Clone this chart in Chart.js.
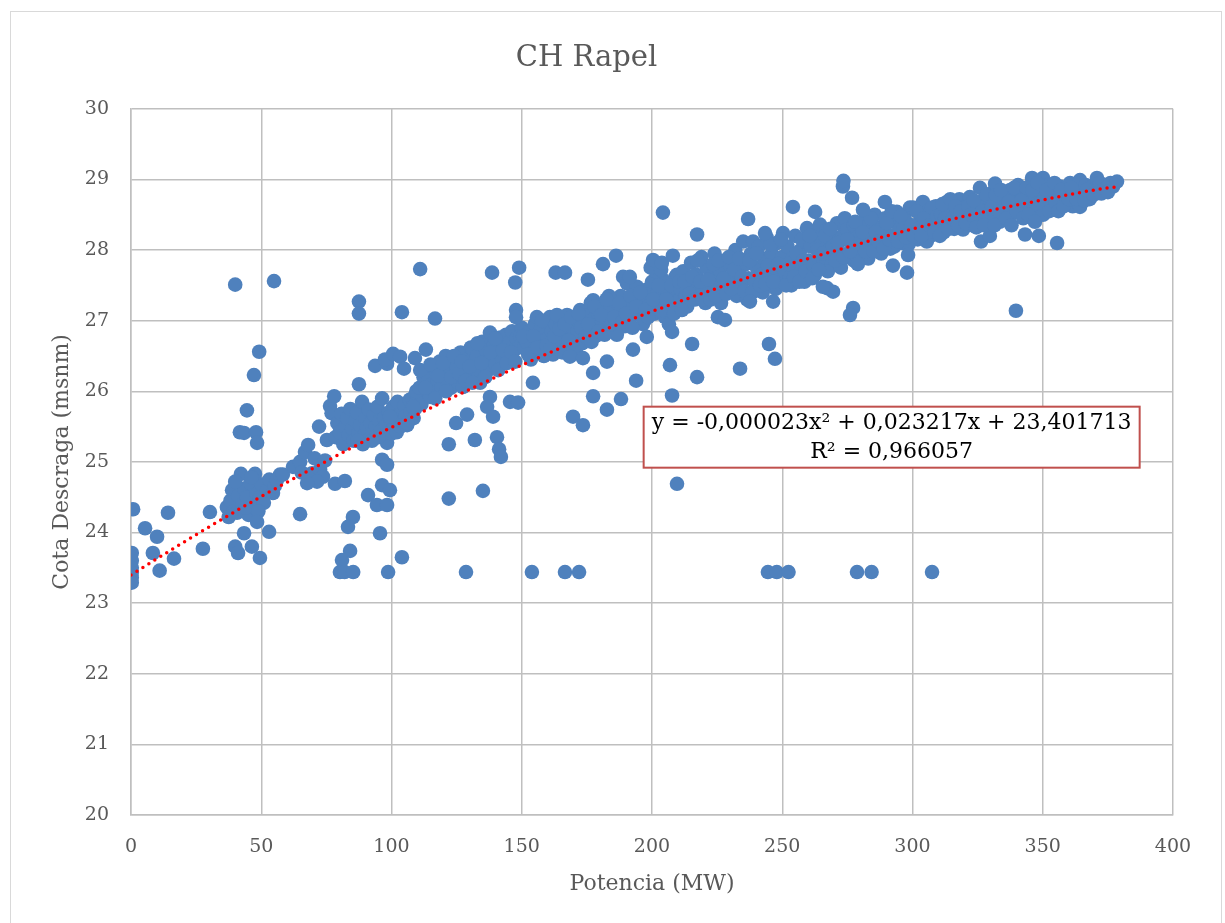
<!DOCTYPE html>
<html>
<head>
<meta charset="utf-8">
<script src="https://cdn.jsdelivr.net/npm/chart.js@4.4.1/dist/chart.umd.min.js"></script>
<style>
  html, body { margin: 0; padding: 0; background: #fff; }
  #frame { position: absolute; left: 10px; top: 11px; width: 1212px; height: 930px; border: 1px solid #d9d9d9; box-sizing: border-box; }
  #wrap { position: absolute; left: 0; top: 0; width: 1225px; height: 923px; }
</style>
</head>
<body>
<div id="frame"></div>
<div id="wrap"><canvas id="chart" width="1225" height="923"></canvas></div>
<script>
// points: [Potencia MW, Cota msnm]
const nearZero = [
    [0.8, 24.33], [0.3, 23.71], [0.3, 23.6], [0.3, 23.5], [0.3, 23.43], [0.3, 23.36], [0.3, 23.29],
    [5.4, 24.06], [8.4, 23.71], [10, 23.94], [11, 23.46], [14.2, 24.28], [16.5, 23.63],
    [27.6, 23.77], [30.3, 24.29]
];

const band35to60 = [
    [36.8, 24.36], [38.2, 24.45], [38.8, 24.6], [39.5, 24.3], [40.7, 24.28], [41.2, 24.52], [42.2, 24.83],
    [42.8, 24.4], [43.5, 24.62], [44.5, 24.5], [45.1, 24.25], [45.8, 24.7], [46.8, 24.36], [47.6, 24.83],
    [48.3, 24.55], [49.5, 24.5], [50.2, 24.68], [51, 24.42], [52.2, 24.6], [53.1, 24.75], [54.5, 24.56],
    [55.2, 24.66], [56, 24.74], [57.2, 24.82], [58.3, 24.82], [46.2, 24.78], [40, 24.72], [44, 24.35],
    [48.9, 24.3], [37.5, 24.22],
    [41.8, 25.42], [43.4, 25.41], [48, 25.42], [48.4, 25.27], [44.5, 25.73], [47.2, 26.23], [49.2, 26.56],
    [43.4, 23.99], [40, 23.8], [41.1, 23.71], [49.5, 23.64], [48.4, 24.15], [53, 24.01], [46.4, 23.8]
];

const band60to110 = [
    [62.2, 24.93], [64.9, 25.0], [66.8, 25.14], [68, 25.24], [69.5, 24.84], [72.6, 24.89], [73.7, 24.79],
    [71.4, 24.72], [67.6, 24.7], [65.5, 24.85], [70.5, 25.05], [74.5, 25.02], [76.4, 25.79], [77, 25.69],
    [72.2, 25.5], [75.2, 25.31], [78, 25.93], [64.9, 24.26],
    [78.5, 25.35], [79.2, 25.55], [80.1, 25.42], [80.8, 25.68], [81.5, 25.25], [82.3, 25.5], [83, 25.62],
    [83.6, 25.38], [84.2, 25.75], [84.9, 25.47], [85.5, 25.3], [86.1, 25.58], [86.8, 25.7], [87.4, 25.42],
    [88, 25.52], [88.7, 25.85], [89.3, 25.36], [90, 25.62], [90.6, 25.48], [91.3, 25.74], [92, 25.55],
    [92.6, 25.4], [93.3, 25.66], [94, 25.5], [94.6, 25.78], [95.3, 25.58], [96, 25.44], [96.4, 25.9],
    [97.2, 25.62], [98, 25.52], [98.3, 25.27], [99, 25.7], [99.8, 25.58], [100.6, 25.78], [101.5, 25.65],
    [102.3, 25.85], [103, 25.6], [104, 25.72], [105, 25.8], [106, 25.52], [107, 25.88], [108, 25.9],
    [109, 25.75], [110, 25.95],
    [100, 25.4], [101, 25.52], [102, 25.42], [103.5, 25.5], [104.5, 25.58], [105.5, 25.65], [107.5, 25.7],
    [108.5, 25.62], [109.5, 26.0], [95, 25.35], [92.5, 25.3], [89, 25.25], [87, 25.3],
    [96.4, 25.03], [98.3, 24.96], [96.4, 24.67], [99.4, 24.6], [91, 24.53], [94.4, 24.39], [98.3, 24.39],
    [95.6, 23.99], [85.2, 24.22], [83.3, 24.08], [84.1, 23.74], [81, 23.61], [78.3, 24.69], [82.1, 24.73],
    [104, 23.65],
    [87.5, 26.1], [93.7, 26.36], [98.3, 26.39], [97.5, 26.45], [100.6, 26.53], [103.3, 26.49], [104.8, 26.32],
    [109, 26.47], [87.5, 27.27], [87.5, 27.1], [104, 27.12], [111, 27.73], [40, 27.51], [54.9, 27.56]
];

const band110to150 = [
    [110.8, 26.05], [111.5, 25.82], [112.3, 26.2], [113.2, 26.59], [114, 26.23], [114.8, 25.92], [115.5, 26.1],
    [116.3, 26.0], [117, 26.3], [117.8, 26.15], [118.5, 26.42], [119.3, 26.05], [120, 26.25], [120.8, 26.5],
    [121.3, 26.16], [122, 26.35], [122.8, 26.05], [123.5, 26.4], [124.3, 26.22], [125, 26.35], [125.8, 26.12],
    [126.5, 26.55], [127.4, 26.06], [128.2, 26.3], [129, 26.45], [129.8, 26.2], [130.5, 26.62], [131.3, 26.59],
    [132, 26.35], [132.8, 26.5], [133.5, 26.25], [134, 26.12], [134.8, 26.7], [135.5, 26.42], [136.3, 26.58],
    [137, 26.3], [137.8, 26.83], [138.5, 26.48], [139.3, 26.65], [140, 26.38], [140.8, 26.55], [141.7, 26.76],
    [142.5, 26.45], [143.2, 26.62], [144, 26.8], [144.8, 26.5], [145.5, 26.7], [146.3, 26.85], [147, 26.58],
    [148, 26.75], [149, 26.62], [150, 26.9],
    [111, 26.3], [113, 26.05], [115, 26.38], [116.8, 25.9], [118, 26.22], [119.8, 26.4], [121, 26.0],
    [123, 26.2], [124, 26.5], [126, 26.25], [127, 26.42], [128.5, 26.15], [130, 26.35], [131, 26.12],
    [133, 26.68], [134.5, 26.4], [136, 26.2], [138, 26.55], [139.8, 26.75], [141, 26.3], [142.8, 26.58],
    [144.3, 26.4], [146, 26.55], [147.5, 26.42], [149.5, 26.78],
    [108.3, 25.78], [106, 25.55], [99.4, 25.64], [122, 25.25], [124.8, 25.55], [129, 25.67], [137.8, 25.92],
    [136.7, 25.78], [139, 25.64], [132, 25.31], [140.5, 25.35], [141.3, 25.18], [142, 25.07], [145.5, 25.85],
    [148.6, 25.84], [122, 24.48], [135.1, 24.59],
    [116.7, 27.03], [138.6, 27.68], [149, 27.75], [147.5, 27.54], [147.8, 27.15], [147.8, 27.05]
];

const band150to210 = [
    [151, 26.62], [152, 26.69], [153, 26.85], [154, 26.55], [155, 26.95], [155.8, 27.05], [156.5, 26.72],
    [157.3, 26.88], [158, 26.6], [159, 26.98], [160, 26.75], [160.8, 27.05], [161.5, 26.85], [162, 26.52],
    [163, 26.95], [164, 26.7], [165, 27.0], [166, 26.82], [167, 26.6], [167.4, 27.08], [168.5, 26.9],
    [169.5, 26.75], [170.5, 27.02], [171.5, 26.85], [172.4, 27.15], [173.2, 26.68], [174, 26.95], [175, 27.1],
    [176, 26.82], [177, 27.0], [177.4, 27.29], [178.3, 26.78], [179, 27.12], [180, 26.92], [181, 27.22],
    [182, 27.05], [183, 26.85], [184, 27.18], [185, 27.29], [186, 26.98], [187, 27.1], [188, 27.35],
    [188.9, 27.62], [189.5, 26.92], [190.4, 27.53], [191, 27.2], [192, 27.05], [193, 27.38], [194.2, 27.48],
    [195, 27.15], [196, 27.3], [197, 27.0], [198, 27.44], [199, 27.22], [200, 27.55], [201, 27.1],
    [202, 27.38], [203, 27.25], [204.2, 27.58], [205, 27.05], [206, 27.4], [207, 27.2], [208, 27.34],
    [209, 27.62], [209.6, 27.65], [210, 27.28],
    [153.5, 26.45], [158.5, 26.5], [163.5, 27.08], [171, 26.62], [176.5, 27.25], [183.5, 27.35], [186.5, 26.8],
    [191.5, 27.62], [196.5, 26.95], [201.5, 27.7], [206.5, 26.95], [199.5, 27.75], [203.5, 27.72],
    [150.5, 26.78], [152.5, 26.52], [154.5, 26.78], [156, 26.62], [157.8, 27.0], [159.5, 26.65], [161, 26.6],
    [162.5, 26.78], [164.5, 26.88], [165.5, 26.55], [166.5, 26.95], [168, 26.72], [169, 27.05], [170, 26.6],
    [171.8, 27.1], [172.8, 26.9], [174.5, 26.78], [175.5, 26.95], [176.8, 26.7], [178, 27.2], [179.5, 26.85],
    [180.5, 27.08], [181.8, 26.8], [182.5, 27.3], [184.5, 26.95], [185.5, 27.05], [187.5, 27.25],
    [188.5, 26.98], [190, 27.1], [191.8, 27.35], [192.5, 26.9], [194, 27.2], [195.5, 27.4], [197.5, 27.15],
    [198.5, 27.05], [200.5, 27.3], [202.5, 27.5], [204, 27.15], [205.5, 27.3], [207.5, 27.5], [208.5, 27.1],
    [168.5, 26.49], [173.5, 26.47], [182.7, 26.42], [177.4, 26.26], [193.9, 26.15], [192.7, 26.59],
    [198, 26.77], [206.9, 26.37], [207.7, 26.84], [177.4, 25.93], [188.1, 25.89], [182.7, 25.74],
    [169.7, 25.64], [173.5, 25.52], [154.3, 26.12], [209.6, 24.69], [207.7, 25.94],
    [163, 27.68], [166.6, 27.68], [175.4, 27.58], [181.2, 27.8], [186.2, 27.92], [200.4, 27.86],
    [203.8, 27.82], [208, 27.92], [204.2, 28.53]
];

const band210to260 = [
    [211, 27.45], [212, 27.7], [213, 27.35], [214, 27.58], [215, 27.82], [216, 27.48], [217, 27.65],
    [218, 27.4], [219, 27.9], [220, 27.55], [221, 27.75], [222, 27.45], [223, 27.62], [224, 27.95],
    [225, 27.5], [226, 27.72], [227, 27.42], [228, 27.85], [229, 27.6], [230, 27.78], [231, 27.52],
    [232, 28.0], [233, 27.68], [234, 27.45], [235, 28.12], [236, 27.8], [237, 27.6], [238, 27.95],
    [238.8, 28.12], [239.5, 27.55], [240.3, 27.75], [241, 28.05], [242, 27.65], [243, 27.88], [244, 28.18],
    [245, 27.6], [246, 27.95], [247, 27.75], [248, 28.1], [249, 27.58], [250, 27.9], [250.3, 28.24],
    [251, 27.7], [252, 28.05], [253, 27.62], [254, 27.88], [255, 28.2], [256, 27.75], [257, 28.0],
    [258, 27.65], [259, 28.12], [259.5, 28.31], [260, 27.85],
    [213.5, 27.2], [220.5, 27.25], [226.5, 27.25], [232.5, 27.35], [236.5, 27.3], [242.5, 27.4],
    [247.5, 27.45], [253.5, 27.5], [258.5, 27.55],
    [210.5, 27.55], [211.5, 27.15], [212.5, 27.55], [214.5, 27.38], [215.5, 27.62], [216.5, 27.3],
    [217.5, 27.85], [218.5, 27.55], [219.5, 27.3], [221.5, 27.58], [222.5, 27.3], [223.5, 27.8],
    [224.5, 27.35], [225.5, 27.85], [227.5, 27.6], [228.5, 27.38], [229.5, 27.9], [230.5, 27.45],
    [231.5, 27.72], [233.5, 27.88], [234.5, 27.62], [235.5, 27.42], [237.5, 27.85], [238.5, 27.4],
    [240, 27.95], [241.5, 27.5], [243.5, 27.52], [244.5, 27.78], [245.5, 28.08], [246.5, 27.55],
    [248.5, 27.8], [249.5, 28.15], [251.5, 27.5], [252.5, 27.8], [254.5, 27.62], [255.5, 27.95],
    [256.5, 27.55], [257.5, 28.15], [258, 27.85], [259, 27.7],
    [215.4, 26.67], [217.3, 26.2], [217.3, 28.22], [236.9, 28.44], [243.4, 28.24], [254.1, 28.61],
    [225.3, 27.05], [228, 27.01], [237.6, 27.27], [246.5, 27.27], [244.9, 26.67], [247.2, 26.46],
    [233.8, 26.32]
];

const band260to310 = [
    [261, 28.05], [262, 27.78], [263, 28.22], [264, 27.9], [264.5, 28.36], [265, 28.1], [266, 27.85],
    [267, 28.28], [268, 28.0], [269, 27.8], [270, 28.15], [271, 28.38], [272, 27.95], [273, 28.2],
    [274, 28.45], [274.9, 28.29], [275.5, 27.9], [276.5, 28.12], [277.5, 28.35], [278.5, 28.02],
    [279.5, 28.2], [280.5, 27.92], [281.5, 28.42], [282.5, 28.38], [283.5, 28.1], [284.5, 28.28],
    [285.5, 28.5], [286.5, 28.05], [287.5, 28.32], [288.5, 28.15], [289.5, 28.45], [290.5, 28.22],
    [291.5, 28.02], [292.5, 28.4], [293.5, 28.2], [294, 28.54], [295, 28.3], [296, 28.1], [297, 28.45],
    [298, 28.25], [299, 28.6], [300.2, 28.6], [301, 28.35], [302, 28.15], [303, 28.5], [304, 28.68],
    [305, 28.3], [306, 28.55], [307, 28.2], [308, 28.42], [309, 28.62], [310, 28.35],
    [262.5, 27.65], [267.5, 27.7], [272.5, 27.75], [277.5, 27.85], [283, 27.88], [288, 27.95],
    [293, 28.05], [298.5, 28.08], [305.5, 28.12],
    [260.5, 28.2], [261.5, 27.6], [263.5, 28.0], [264, 27.72], [265.5, 27.95], [266.5, 28.2], [268.5, 28.3],
    [269.5, 28.05], [270.5, 27.85], [271.5, 28.1], [273.5, 27.9], [275, 28.15], [276, 27.98], [278, 28.4],
    [279, 27.8], [280, 28.1], [281, 28.25], [282, 27.98], [284, 28.45], [285, 27.98], [286, 28.25],
    [287, 28.12], [289, 28.02], [290, 28.38], [291, 28.15], [292, 28.55], [294.5, 28.12], [295.5, 28.48],
    [296.5, 28.3], [297.5, 28.18], [299.5, 28.35], [300.5, 28.2], [301.5, 28.55], [302.5, 28.3],
    [303.5, 28.2], [304.5, 28.45], [306.5, 28.35], [307.5, 28.6], [308.5, 28.25], [309.5, 28.48],
    [262.6, 28.54], [273.3, 28.9], [273.5, 28.98], [276.8, 28.74], [281, 28.57], [289.4, 28.68],
    [297.9, 27.68], [298.3, 27.93], [292.5, 27.78], [277.2, 27.18], [276, 27.08], [267.2, 27.46],
    [269.5, 27.41], [265.6, 27.48]
];

const band310to380 = [
    [311, 28.5], [312, 28.25], [313.2, 28.68], [314, 28.4], [315, 28.58], [316, 28.3], [317, 28.52],
    [318, 28.72], [319, 28.42], [319.4, 28.29], [320, 28.6], [321, 28.45], [322, 28.75], [323, 28.35],
    [324, 28.62], [325, 28.48], [325.9, 28.88], [326.3, 28.12], [327, 28.7], [328, 28.4], [329, 28.58],
    [329.7, 28.2], [330, 28.8], [331, 28.5], [331.7, 28.94], [332.5, 28.65], [333.5, 28.4], [334.7, 28.47],
    [335.5, 28.78], [336.5, 28.6], [337.5, 28.85], [338.5, 28.52], [339.5, 28.7], [340.5, 28.92],
    [341.2, 28.57], [342, 28.8], [343.2, 28.22], [344, 28.65], [345, 28.9], [345.9, 29.02], [346.5, 28.72],
    [347.5, 28.55], [348.5, 28.2], [349, 28.85], [350.1, 29.02], [350.1, 28.5], [351, 28.7], [352, 28.92],
    [353, 28.62], [354, 28.8], [355.5, 28.1], [356.6, 28.9], [357.5, 28.7], [358.5, 28.82], [359.3, 28.75],
    [360.5, 28.95], [361.5, 28.62], [362.5, 28.85], [364.3, 28.99], [364.3, 28.61], [365.5, 28.8],
    [366.5, 28.92], [368, 28.72], [369, 28.9], [370.8, 29.02], [370.8, 28.81], [372, 28.95], [373, 28.85],
    [374.6, 28.88], [376, 28.95], [377, 28.9], [378.5, 28.97],
    [310.5, 28.2], [311.5, 28.65], [312.5, 28.45], [313.8, 28.3], [314.5, 28.72], [315.5, 28.45],
    [316.5, 28.62], [317.5, 28.35], [318.5, 28.55], [320.5, 28.38], [321.5, 28.62], [322.5, 28.5],
    [323.5, 28.7], [324.5, 28.32], [326.8, 28.55], [327.5, 28.35], [328.5, 28.78], [330.5, 28.62],
    [331.5, 28.35], [332, 28.78], [333, 28.55], [334, 28.85], [336, 28.45], [337, 28.68], [338, 28.35],
    [339, 28.88], [340, 28.55], [341.8, 28.7], [342.5, 28.45], [343.8, 28.88], [344.5, 28.5], [346, 28.85],
    [347, 28.4], [348, 28.95], [349.5, 28.68], [351.5, 28.85], [352.5, 28.55], [354.5, 28.95], [355, 28.68],
    [356, 28.55], [357, 28.85], [358, 28.62], [360, 28.72], [361, 28.88], [363, 28.72], [366, 28.7],
    [367, 28.85], [369.5, 28.78], [372.5, 28.8], [375, 28.82],
    [339.7, 27.14]
];

// the row of readings sitting at the same low level
const floorRow = [
    [80.2, 23.44], [82, 23.44], [85.3, 23.44], [98.7, 23.44], [128.6, 23.44], [153.9, 23.44],
    [166.6, 23.44], [172, 23.44], [244.5, 23.44], [247.9, 23.44], [252.4, 23.44], [278.7, 23.44],
    [284.3, 23.44], [307.5, 23.44]
];

// polynomial trendline
const trendX = [0, 25, 50, 75, 100, 125, 150, 175, 200, 225, 250, 275, 300, 325, 350, 375, 378];
const trendY = [23.40, 23.97, 24.51, 25.01, 25.49, 25.94, 26.37, 26.77, 27.13, 27.46, 27.77, 28.04, 28.30, 28.52, 28.71, 28.88, 28.89];

const xTicks = [0, 50, 100, 150, 200, 250, 300, 350, 400];
const yTicks = [20, 21, 22, 23, 24, 25, 26, 27, 28, 29, 30];

const equationLines = ['y = -0,000023x² + 0,023217x + 23,401713', 'R² = 0,966057'];

const allPoints = [
    ...nearZero, ...band35to60, ...band60to110, ...band110to150, ...band150to210,
    ...band210to260, ...band260to310, ...band310to380, ...floorRow
].map(([x, y]) => ({ x, y }));

const trendPoints = trendX.map((x, i) => ({ x, y: trendY[i] }));

const FONT = '"DejaVu Serif", "Liberation Serif", serif';
const GREY_TEXT = '#595959';
const GRID = '#bfbfbf';

const equationBox = {
    id: 'equationBox',
    afterDatasetsDraw(chart) {
        const { ctx, scales } = chart;
        const cx = scales.x.getPixelForValue(292);
        const cy = scales.y.getPixelForValue(25.35);
        const w = 496, h = 61;
        ctx.save();
        ctx.fillStyle = '#ffffff';
        ctx.fillRect(cx - w / 2, cy - h / 2, w, h);
        ctx.strokeStyle = '#c0504d';
        ctx.lineWidth = 2;
        ctx.strokeRect(cx - w / 2, cy - h / 2, w, h);
        ctx.fillStyle = '#000000';
        ctx.font = '22px ' + FONT;
        ctx.textAlign = 'center';
        ctx.textBaseline = 'middle';
        ctx.fillText(equationLines[0], cx, cy - 14);
        ctx.fillText(equationLines[1], cx, cy + 15);
        ctx.restore();
    }
};

new Chart(document.getElementById('chart').getContext('2d'), {
    type: 'scatter',
    data: {
        datasets: [
            {
                type: 'line',
                label: 'Polinómica',
                data: trendPoints,
                borderColor: '#ff0000',
                borderWidth: 3.5,
                borderDash: [0, 7],
                borderCapStyle: 'round',
                pointRadius: 0,
                fill: false,
                cubicInterpolationMode: 'monotone',
                order: 0
            },
            {
                label: 'Cota',
                data: allPoints,
                backgroundColor: '#4f81bd',
                borderWidth: 0,
                pointRadius: 7.3,
                order: 1
            }
        ]
    },
    options: {
        responsive: false,
        animation: false,
        events: [],
        layout: { padding: { left: 0, right: 52, top: 0, bottom: 0 } },
        plugins: {
            legend: { display: false },
            tooltip: { enabled: false },
            title: {
                display: true,
                text: 'CH Rapel',
                color: GREY_TEXT,
                font: { family: FONT, size: 29, weight: 'normal' },
                padding: { top: 41, bottom: 33 }
            }
        },
        scales: {
            x: {
                type: 'linear',
                min: 0,
                max: 400,
                afterBuildTicks: scale => { scale.ticks = xTicks.map(v => ({ value: v })); },
                afterFit: scale => { scale.height = 108; },
                grid: { color: GRID, lineWidth: 1.5, drawTicks: false },
                border: { color: GRID, width: 1.5 },
                ticks: { color: GREY_TEXT, padding: 21, font: { family: FONT, size: 19 } },
                title: {
                    display: true,
                    text: 'Potencia (MW)',
                    color: GREY_TEXT,
                    font: { family: FONT, size: 22 },
                    padding: { top: 0, bottom: 26 }
                }
            },
            y: {
                min: 20,
                max: 30,
                afterBuildTicks: scale => { scale.ticks = yTicks.map(v => ({ value: v })); },
                afterFit: scale => { scale.width = 131; },
                grid: { color: GRID, lineWidth: 1.5, drawTicks: false },
                border: { color: GRID, width: 1.5 },
                ticks: { color: GREY_TEXT, padding: 22, font: { family: FONT, size: 19 } },
                title: {
                    display: true,
                    text: 'Cota Descraga (msnm)',
                    color: GREY_TEXT,
                    font: { family: FONT, size: 22 },
                    padding: { top: 49, bottom: 0 }
                }
            }
        }
    },
    plugins: [equationBox]
});
</script>
</body>
</html>
